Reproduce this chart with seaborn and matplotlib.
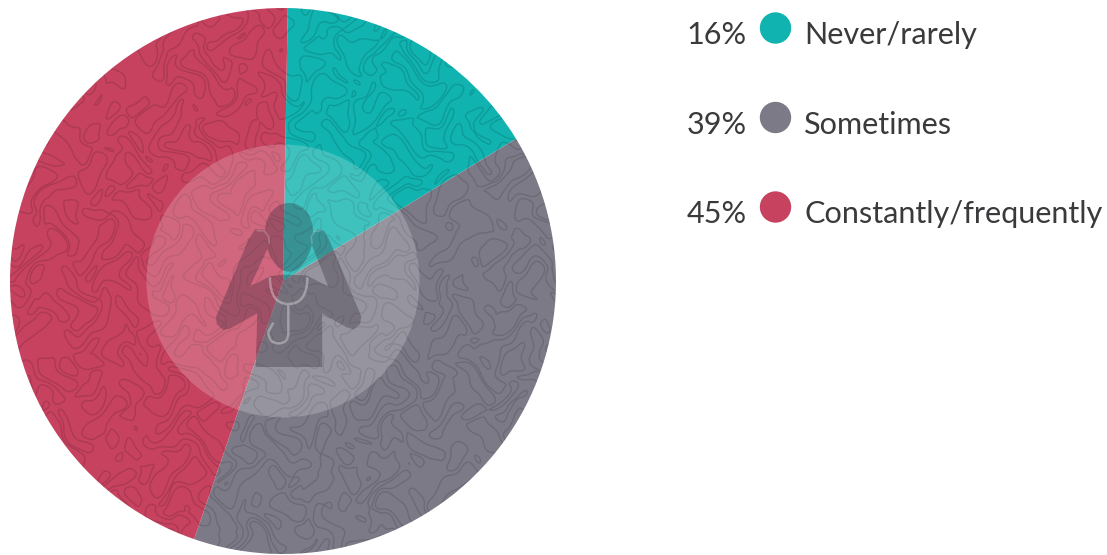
import numpy as np
import pandas as pd
import matplotlib
matplotlib.use("Agg")
import matplotlib.pyplot as plt
from matplotlib.patches import Circle, PathPatch
from matplotlib.path import Path
import seaborn as sns

# Survey answers
categories = ["Never/rarely", "Sometimes", "Constantly/frequently"]
shares = [16, 39, 45]
slice_colors = ["#10B3AF", "#7C7A87", "#C6425F"]

W, H = 1107, 555
sns.set_theme(style="white")
plt.rcParams["font.family"] = ["Lato", "DejaVu Sans"]

frame = pd.DataFrame({"category": categories, "share": shares})
palette = dict(zip(categories, sns.color_palette(slice_colors)))

fig = plt.figure(figsize=(W / 100, H / 100), dpi=100, facecolor="white")

# Pie, placed so that radius 1 spans the disc in the figure
cx, cy, r = 283, 281, 273
ax = fig.add_axes([(cx - r) / W, 1 - (cy + r) / H, 2 * r / W, 2 * r / H])
wedges, _ = ax.pie(frame["share"], colors=[palette[c] for c in categories],
                   startangle=89, counterclock=False, radius=1,
                   wedgeprops={"linewidth": 0})
ax.set_xlim(-1, 1)
ax.set_ylim(-1, 1)
ax.set_aspect("equal")
ax.axis("off")

# Meandering line texture: level sets of a finely warped sum of sines
gx, gy = np.meshgrid(np.linspace(-1, 1, 1400), np.linspace(-1, 1, 1400))
wx = gx + 0.045 * np.sin(23 * gy + 1.3) + 0.018 * np.cos(47 * gy - 19 * gx)
wy = gy + 0.045 * np.cos(25 * gx - 0.7) + 0.018 * np.sin(51 * gx + 17 * gy)
field = (np.sin(29 * wx + 17 * wy + 0.4) + np.sin(-19 * wx + 31 * wy + 2.1)
         + np.sin(37 * wx - 11 * wy + 4.0) + np.cos(13 * wx + 41 * wy + 1.0)
         + 0.7 * np.sin(53 * wx + 27 * wy) + 0.7 * np.cos(-43 * wx + 39 * wy + 3.0))
lines = ax.contour(gx, gy, field, levels=[-1.1, 1.1],
                   colors="#000000", linewidths=1.0, alpha=0.13, zorder=3,
                   linestyles="solid")
lines.set_clip_path(Circle((0, 0), 1, transform=ax.transData))

# Pale disc behind the figure
ax.add_patch(Circle((0, 0), 0.5, facecolor="white", alpha=0.2, linewidth=0, zorder=4))

# Overlay in figure pixels for the icon and the key
over = fig.add_axes([0, 0, 1, 1], facecolor="none")
over.set_xlim(0, W)
over.set_ylim(H, 0)
over.axis("off")


def crop_xy(points):
    pts = np.array(points, dtype=float)
    return np.column_stack([140 + pts[:, 0] / 3, 140 + pts[:, 1] / 3])


def oriented(pts):
    x, y = pts[:, 0], pts[:, 1]
    area = np.sum(x * np.roll(y, -1) - np.roll(x, -1) * y)
    return pts if area > 0 else pts[::-1]


# Doctor silhouette: torso with raised arms, then the head
torso = crop_xy([
    (345, 268), (372, 268), (390, 288), (392, 305), (330, 440), (392, 408),
    (430, 404), (500, 406), (565, 440), (512, 306), (514, 284), (532, 268),
    (552, 272), (568, 300), (664, 530), (660, 552), (640, 568), (620, 562),
    (546, 520), (547, 681), (347, 681), (352, 520), (270, 566), (250, 570),
    (230, 552), (228, 530), (325, 300),
])
t = np.linspace(0, 2 * np.pi, 80, endpoint=False)
head = crop_xy(np.column_stack([
    447 + 72 * np.cos(t) * (1 - 0.12 * np.sin(t)),
    292 + 103 * np.sin(t),
]))
verts, codes = [], []
for shape in (oriented(torso), oriented(head)):
    verts += list(shape) + [shape[0]]
    codes += [Path.MOVETO] + [Path.LINETO] * (len(shape) - 1) + [Path.CLOSEPOLY]
over.add_patch(PathPatch(Path(verts, codes), facecolor="#2A2030", alpha=0.3,
                         linewidth=0, zorder=5))

# Pale gaps where the hands meet the head
for hand in ([(352, 272), (372, 272), (386, 290), (388, 310)],
             [(542, 272), (524, 274), (514, 290), (516, 310)]):
    pts = crop_xy(hand)
    over.plot(pts[:, 0], pts[:, 1], color="white", alpha=0.2, lw=1.2, zorder=6)

# Stethoscope: the yoke around the neck, then the tube and its chest piece
tube_pts = crop_xy([
    (390, 412), (390, 492), (445, 492), (502, 492), (502, 412),
    (445, 492), (445, 580), (445, 610), (415, 610), (385, 610), (385, 575),
    (400, 548),
])
tube_codes = [Path.MOVETO, Path.CURVE3, Path.CURVE3, Path.CURVE3, Path.CURVE3,
              Path.MOVETO, Path.LINETO, Path.CURVE3, Path.CURVE3, Path.CURVE3,
              Path.CURVE3, Path.LINETO]
over.add_patch(PathPatch(Path(tube_pts, tube_codes), facecolor="none",
                         edgecolor="white", alpha=0.33, lw=1.8, zorder=6))

# Key: share, colour dot, category name
dot_x, share_right, name_left = 775.5, 747, 804
first_row, row_step, baseline_drop = 28, 89.5, 16
rows = [first_row + row_step * i for i in range(len(categories))]
sns.scatterplot(x=[dot_x] * len(rows), y=rows, hue=frame["category"],
                palette=palette, s=510, linewidth=0, legend=False, ax=over,
                zorder=7)
over.set_xlim(0, W)
over.set_ylim(H, 0)
over.axis("off")
for y, name, share in zip(rows, categories, shares):
    over.text(share_right, y + baseline_drop, f"{share}%", ha="right", va="baseline",
              fontsize=22.1, color="#3A3A3C")
    over.text(name_left, y + baseline_drop, name, ha="left", va="baseline",
              fontsize=22.1, color="#3A3A3C")

fig.savefig("out.png", dpi=100, facecolor="white")
